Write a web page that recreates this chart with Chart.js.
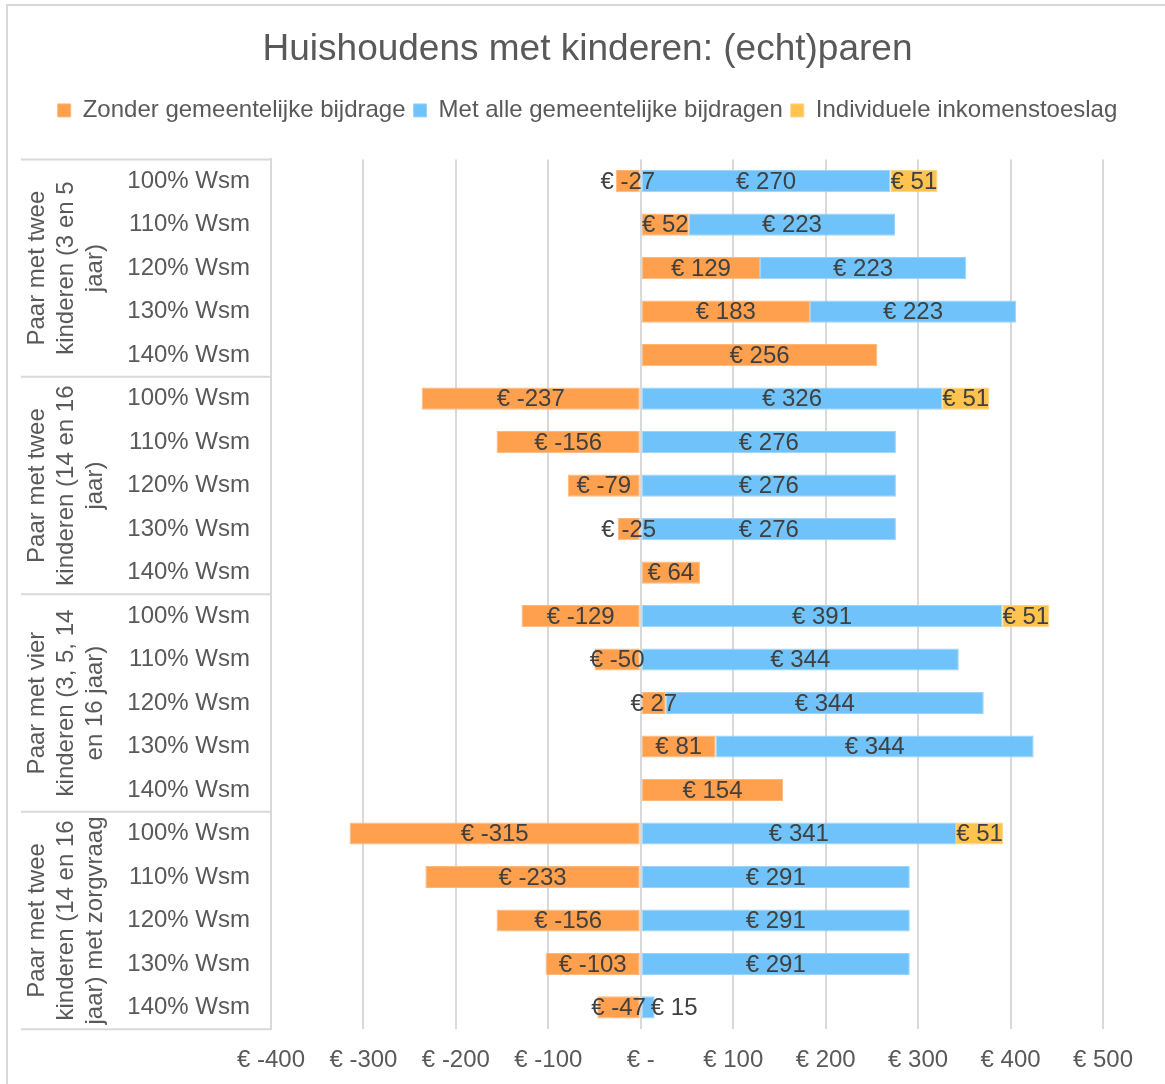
<!DOCTYPE html>
<html>
<head>
<meta charset="utf-8">
<script src="https://cdn.jsdelivr.net/npm/chart.js@4"></script>
<style>
  html, body { margin: 0; padding: 0; background: #fff; }
  #wrap { width: 1165px; height: 1084px; position: relative; }
</style>
</head>
<body>
<div id="wrap"><canvas id="chart"></canvas></div>
<script>
const groups = [
    ['Paar met twee', 'kinderen (3 en 5', 'jaar)'],
    ['Paar met twee', 'kinderen (14 en 16', 'jaar)'],
    ['Paar met vier', 'kinderen (3, 5, 14', 'en 16 jaar)'],
    ['Paar met twee', 'kinderen (14 en 16', 'jaar) met zorgvraag']
];
const levels = ['100% Wsm', '110% Wsm', '120% Wsm', '130% Wsm', '140% Wsm'];

const zonder = [-27, 52, 129, 183, 256,  -237, -156, -79, -25, 64,  -129, -50, 27, 81, 154,  -315, -233, -156, -103, -47];
const metAlle = [270, 223, 223, 223, null,  326, 276, 276, 276, null,  391, 344, 344, 344, null,  341, 291, 291, 291, 15];
const toeslag = [51, null, null, null, null,  51, null, null, null, null,  51, null, null, null, null,  51, null, null, null, null];

const xTicks = [-400, -300, -200, -100, 0, 100, 200, 300, 400, 500];

const labels = [];
groups.forEach(() => levels.forEach(l => labels.push(l)));

const FONT = '"Liberation Sans", Arial, sans-serif';

function euro(v) {
    return v === 0 ? '€ -' : '€ ' + v;
}

// outer frame of the chart (right and bottom edge fall outside the picture)
const frame = {
    id: 'frame',
    beforeDraw(chart) {
        const ctx = chart.ctx;
        ctx.save();
        ctx.strokeStyle = '#d9d9d9';
        ctx.lineWidth = 2;
        ctx.beginPath();
        ctx.moveTo(7, 1084);
        ctx.lineTo(7, 5);
        ctx.lineTo(1165, 5);
        ctx.stroke();
        ctx.restore();
    }
};

// extra room under the legend
const legendGap = {
    id: 'legendGap',
    beforeInit(chart) {
        const fit = chart.legend.fit;
        chart.legend.fit = function() {
            fit.bind(chart.legend)();
            this.height += 27;
        };
    }
};

const groupAxis = {
    id: 'groupAxis',
    afterDraw(chart) {
        const ctx = chart.ctx;
        const area = chart.chartArea;
        const rowH = (area.bottom - area.top) / labels.length;
        ctx.save();
        ctx.strokeStyle = '#d9d9d9';
        ctx.lineWidth = 2;
        for (let g = 0; g <= groups.length; g++) {
            const y = area.top + g * levels.length * rowH;
            ctx.beginPath();
            ctx.moveTo(21, y);
            ctx.lineTo(area.left, y);
            ctx.stroke();
        }
        ctx.fillStyle = '#595959';
        ctx.font = '24px ' + FONT;
        ctx.textAlign = 'center';
        ctx.textBaseline = 'middle';
        groups.forEach((lines, g) => {
            const cy = area.top + (g + 0.5) * levels.length * rowH;
            ctx.save();
            ctx.translate(66, cy);
            ctx.rotate(-Math.PI / 2);
            lines.forEach((t, i) => ctx.fillText(t, 0, (i - 1) * 29));
            ctx.restore();
        });
        ctx.restore();
    }
};

const barLabels = {
    id: 'barLabels',
    afterDatasetsDraw(chart) {
        const ctx = chart.ctx;
        ctx.save();
        ctx.fillStyle = '#404040';
        ctx.font = '24px ' + FONT;
        ctx.textAlign = 'center';
        ctx.textBaseline = 'middle';
        chart.data.datasets.forEach((ds, i) => {
            chart.getDatasetMeta(i).data.forEach((bar, j) => {
                const v = ds.data[j];
                if (v === null || v === undefined) return;
                const txt = euro(v);
                const w = ctx.measureText(txt).width;
                let x = (bar.x + bar.base) / 2;
                // narrow blue bar: push the label clear of the bar start
                if (i === 1 && w > Math.abs(bar.x - bar.base)) {
                    x = Math.max(x, bar.base + 9 + w / 2);
                }
                ctx.fillText(txt, x, bar.y + 1);
            });
        });
        ctx.restore();
    }
};

const ctx = document.getElementById('chart').getContext('2d');
const chart = new Chart(ctx, {
    type: 'bar',
    data: {
        labels: labels,
        datasets: [{
            label: 'Zonder gemeentelijke bijdrage',
            data: zonder,
            backgroundColor: '#FFA04F',
            borderColor: '#FFB77A',
            borderWidth: 1,
            borderSkipped: false
        }, {
            label: 'Met alle gemeentelijke bijdragen',
            data: metAlle,
            backgroundColor: '#6FC3FA',
            borderColor: '#9AD4FB',
            borderWidth: 1,
            borderSkipped: false
        }, {
            label: 'Individuele inkomenstoeslag',
            data: toeslag,
            backgroundColor: '#FFC34E',
            borderColor: '#FFD47F',
            borderWidth: 1,
            borderSkipped: false
        }]
    },
    options: {
        indexAxis: 'y',
        responsive: true,
        maintainAspectRatio: false,
        animation: false,
        layout: { padding: { left: 10, right: 0, top: 0, bottom: -8 } },
        datasets: { bar: { barPercentage: 0.51, categoryPercentage: 1 } },
        plugins: {
            title: {
                display: true,
                text: 'Huishoudens met kinderen: (echt)paren',
                color: '#595959',
                font: { size: 37, family: FONT, weight: 'normal' },
                padding: { top: 28, bottom: 18 }
            },
            legend: {
                position: 'top',
                labels: {
                    color: '#595959',
                    font: { size: 24, family: FONT },
                    boxWidth: 13,
                    boxHeight: 13,
                    padding: 8
                }
            },
            tooltip: { enabled: false }
        },
        scales: {
            x: {
                stacked: true,
                min: -400,
                max: 500,
                afterBuildTicks(scale) {
                    scale.ticks = xTicks.map(v => ({ value: v }));
                },
                afterFit(scale) { scale.paddingRight = 62; },
                ticks: {
                    color: '#595959',
                    font: { size: 24, family: FONT },
                    padding: 17,
                    maxRotation: 0,
                    callback: v => euro(v)
                },
                grid: { color: '#d9d9d9', lineWidth: 2, drawTicks: false },
                border: { display: false }
            },
            y: {
                stacked: true,
                afterFit(scale) { scale.width = 261; },
                ticks: {
                    color: '#595959',
                    font: { size: 24, family: FONT },
                    padding: 21
                },
                grid: { display: false, drawTicks: false },
                border: { display: true, color: '#d9d9d9', width: 2 }
            }
        }
    },
    plugins: [frame, legendGap, groupAxis, barLabels]
});
</script>
</body>
</html>
